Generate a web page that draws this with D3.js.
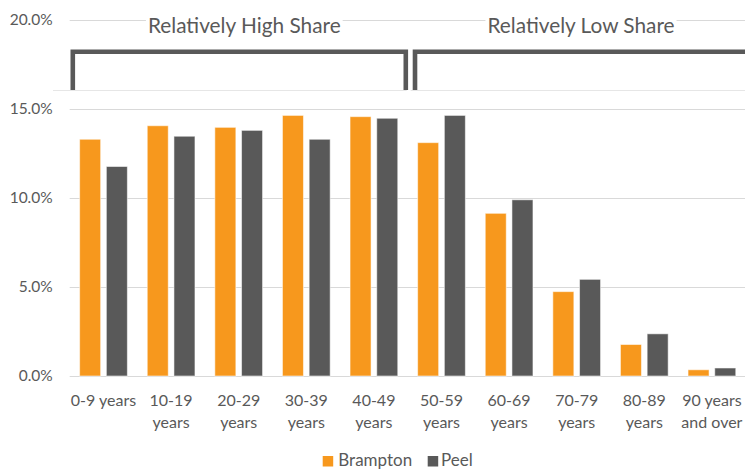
<!DOCTYPE html>
<html>
<head>
<meta charset="utf-8">
<script src="https://cdn.jsdelivr.net/npm/d3@7"></script>
<style>
  html, body { margin: 0; padding: 0; background: #fff; }
  svg { display: block; font-family: Lato, "Open Sans", sans-serif; }
</style>
</head>
<body>
<svg id="chart" width="745" height="470"></svg>
<script>
// ---- data ----
const categories = ["0-9 years","10-19 years","20-29 years","30-39 years","40-49 years","50-59 years","60-69 years","70-79 years","80-89 years","90 years and over"];
const categoryLabels = [["0-9 years"],["10-19","years"],["20-29","years"],["30-39","years"],["40-49","years"],["50-59","years"],["60-69","years"],["70-79","years"],["80-89","years"],["90 years","and over"]];
const seriesNames = ["Brampton","Peel"];
const brampton = [0.1330,0.1406,0.1397,0.1464,0.1457,0.1311,0.0914,0.0474,0.0177,0.0035];
const peel     = [0.1177,0.1347,0.1380,0.1330,0.1448,0.1464,0.0990,0.0543,0.0237,0.0045];
const yTicks = [0, 0.05, 0.10, 0.15, 0.20];
const groupLabels = ["Relatively High Share","Relatively Low Share"];
const groupRanges = [[0,4],[5,9]];
const colors = {Brampton: "#F7981D", Peel: "#595959"};

// ---- layout ----
const svg = d3.select("#chart");
const W = 745, H = 470;
const x = d3.scaleBand().domain(categories).range([69.7, 745.7]).paddingInner(0).paddingOuter(0);
const xs = d3.scaleBand().domain(seriesNames).range([0, x.bandwidth()]).paddingInner(0.213).paddingOuter(0.372);
const y = d3.scaleLinear().domain([0, 0.2]).range([376, 20]);
const textColor = "#595959";

// gridlines
svg.append("g").selectAll("line").data(yTicks).join("line")
  .attr("x1", 69.7).attr("x2", W)
  .attr("y1", d => Math.round(y(d)) + 0.5).attr("y2", d => Math.round(y(d)) + 0.5)
  .attr("stroke", "#d9d9d9").attr("stroke-width", 1);

// faint box edge line under brackets
const boundary = x(categories[5]);
svg.append("line").attr("x1", 53).attr("x2", boundary - 1).attr("y1", 90.5).attr("y2", 90.5)
  .attr("stroke", "#e6e6e6").attr("stroke-width", 1);
svg.append("line").attr("x1", boundary + 3).attr("x2", W).attr("y1", 90.5).attr("y2", 90.5)
  .attr("stroke", "#e6e6e6").attr("stroke-width", 1);

// y axis
const yAxis = d3.axisLeft(y).tickValues(yTicks).tickFormat(d3.format(".1%")).tickSize(0).tickPadding(17);
const gy = svg.append("g").attr("transform", "translate(69.7,0)").call(yAxis);
gy.select(".domain").remove();
gy.selectAll("text").attr("fill", textColor).style("font-size", "15.5px").style("font-family", "Lato");

// bars
const rows = categories.map((c, i) => ({cat: c, Brampton: brampton[i], Peel: peel[i]}));
const gBars = svg.append("g");
rows.forEach(r => {
  seriesNames.forEach(s => {
    gBars.append("rect")
      .attr("x", x(r.cat) + xs(s))
      .attr("y", y(r[s]))
      .attr("width", xs.bandwidth())
      .attr("height", y(0) - y(r[s]))
      .attr("fill", colors[s])
      .attr("stroke", "#ffffff").attr("stroke-opacity", 0.55).attr("stroke-width", 1);
  });
});

// x labels
const gx = svg.append("g");
categoryLabels.forEach((lines, i) => {
  const cx = x(categories[i]) + x.bandwidth() / 2;
  const t = gx.append("text").attr("text-anchor", "middle").attr("fill", textColor)
    .style("font-size", "16px");
  lines.forEach((ln, j) => {
    t.append("tspan").attr("x", cx).attr("y", 406 + j * 22.3).text(ln);
  });
});

// group brackets
const bracketTop = 51.8, bracketBottom = 90;
const leftStart = x(categories[groupRanges[0][0]]) + 3.1;
const leftEnd = x(categories[groupRanges[0][1]]) + x.bandwidth() - 1.9;
const rightStart = x(categories[groupRanges[1][0]]) + 7.3;
const rightEnd = W + 10;
svg.append("path")
  .attr("d", `M${leftStart},${bracketBottom}V${bracketTop}H${leftEnd}V${bracketBottom}`)
  .attr("fill", "none").attr("stroke", "#595959").attr("stroke-width", 4.6);
svg.append("path")
  .attr("d", `M${rightStart},${bracketBottom}V${bracketTop}H${rightEnd}`)
  .attr("fill", "none").attr("stroke", "#595959").attr("stroke-width", 4.6);

// group titles with white backgrounds
const titleCenters = [(leftStart + leftEnd) / 2 + 5, (rightStart + 745) / 2 + 1];
groupLabels.forEach((lbl, i) => {
  const g = svg.append("g");
  const bg = g.append("rect").attr("fill", "#fff");
  const t = g.append("text").attr("x", titleCenters[i]).attr("y", 33.3)
    .attr("text-anchor", "middle").attr("fill", textColor)
    .style("font-size", "20.8px").text(lbl);
  const bb = t.node().getBBox();
  bg.attr("x", bb.x - 2).attr("y", bb.y + 2).attr("width", bb.width + 4).attr("height", bb.height - 4);
});

// legend
const legend = svg.append("g");
const legendItems = [{name: "Brampton", sx: 322.7, tx: 338.3}, {name: "Peel", sx: 427.7, tx: 441}];
legendItems.forEach(it => {
  legend.append("rect").attr("x", it.sx).attr("y", 456).attr("width", 10.5).attr("height", 10.5)
    .attr("fill", colors[it.name]);
  legend.append("text").attr("x", it.tx).attr("y", 466).attr("fill", textColor)
    .style("font-size", "17px").text(it.name);
});
</script>
</body>
</html>
